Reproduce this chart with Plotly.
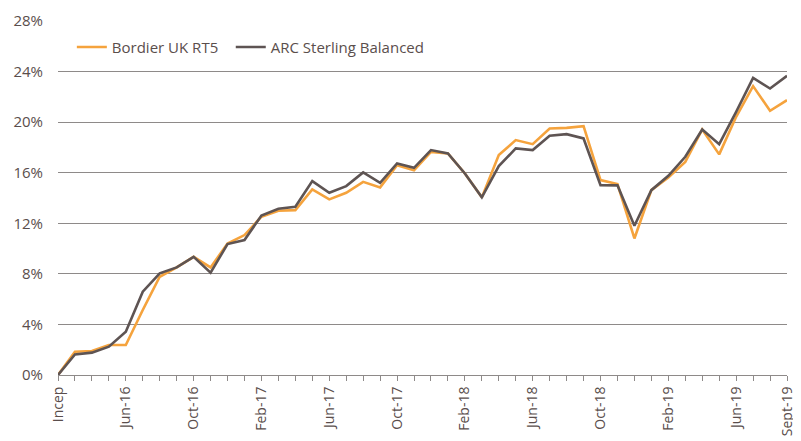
import plotly.graph_objects as go

months = ["Incep", "Mar-16", "Apr-16", "May-16", "Jun-16", "Jul-16", "Aug-16", "Sep-16", "Oct-16",
          "Nov-16", "Dec-16", "Jan-17", "Feb-17", "Mar-17", "Apr-17", "May-17", "Jun-17", "Jul-17",
          "Aug-17", "Sep-17", "Oct-17", "Nov-17", "Dec-17", "Jan-18", "Feb-18", "Mar-18", "Apr-18",
          "May-18", "Jun-18", "Jul-18", "Aug-18", "Sep-18", "Oct-18", "Nov-18", "Dec-18", "Jan-19",
          "Feb-19", "Mar-19", "Apr-19", "May-19", "Jun-19", "Jul-19", "Aug-19", "Sept-19"]

shown_labels = ["Incep", "Jun-16", "Oct-16", "Feb-17", "Jun-17", "Oct-17", "Feb-18",
                "Jun-18", "Oct-18", "Feb-19", "Jun-19", "Sept-19"]

bordier = [0.0, 1.84, 1.90, 2.37, 2.37, 5.14, 7.77, 8.51, 9.35, 8.51, 10.40, 11.07, 12.52, 12.99,
           13.04, 14.68, 13.89, 14.41, 15.28, 14.84, 16.60, 16.20, 17.65, 17.52, 15.94, 14.05,
           17.39, 18.58, 18.26, 19.50, 19.55, 19.68, 15.42, 15.10, 10.80, 14.62, 15.63, 16.86,
           19.42, 17.45, 20.42, 22.85, 20.90, 21.74]

arc = [0.0, 1.63, 1.77, 2.24, 3.43, 6.59, 8.04, 8.51, 9.35, 8.09, 10.36, 10.67, 12.62, 13.15,
       13.31, 15.34, 14.41, 14.94, 16.02, 15.20, 16.73, 16.39, 17.79, 17.52, 15.94, 14.05,
       16.52, 17.92, 17.79, 18.92, 19.05, 18.71, 15.02, 15.00, 11.80, 14.62, 15.76, 17.26,
       19.42, 18.26, 20.82, 23.50, 22.66, 23.66]

y_ticks = [0, 4, 8, 12, 16, 20, 24, 28]

idx = list(range(len(months)))
ticktext = [m if m in shown_labels else "" for m in months]

ORANGE = "#F5A33D"
DARK = "#5E5453"
TEXT = "#5A4E4C"
GRID = "#8E8A89"

fig = go.Figure()
fig.add_trace(go.Scatter(x=idx, y=bordier, mode="lines", name="Bordier UK RT5",
                         line=dict(color=ORANGE, width=2.6), legend="legend"))
fig.add_trace(go.Scatter(x=idx, y=arc, mode="lines", name="ARC Sterling Balanced",
                         line=dict(color=DARK, width=2.6), legend="legend2"))

legend_style = dict(orientation="h", yanchor="middle", xanchor="left", y=0.926,
                    font=dict(size=15, color=TEXT), bgcolor="rgba(0,0,0,0)", itemwidth=30)

# page body has an 8px default margin, so the figure is sized/offset to compensate
fig.update_layout(
    width=793, height=433,
    margin=dict(l=50, r=14, t=13, b=66),
    paper_bgcolor="white", plot_bgcolor="white",
    font=dict(family="Open Sans", color=TEXT, size=14),
    showlegend=True,
    legend=dict(x=0.019, **legend_style),
    legend2=dict(x=0.237, **legend_style),
)
fig.update_xaxes(
    range=[0, len(months) - 1],
    tickmode="array", tickvals=idx, ticktext=ticktext,
    tickangle=-90, tickfont=dict(size=14, color=TEXT),
    ticks="outside", ticklen=5, tickcolor=GRID, tickwidth=1,
    showline=True, linecolor=GRID, linewidth=1,
    showgrid=False, zeroline=False, automargin=False,
)
fig.update_yaxes(
    range=[0, 28], tickmode="array", tickvals=y_ticks,
    ticktext=[f"{v}%" for v in y_ticks],
    tickfont=dict(size=15, color=TEXT),
    showgrid=True, gridcolor=GRID, gridwidth=1,
    zeroline=False, showline=False, ticks="", ticklabelstandoff=14,
    automargin=False,
)

fig.write_html("out.html")
